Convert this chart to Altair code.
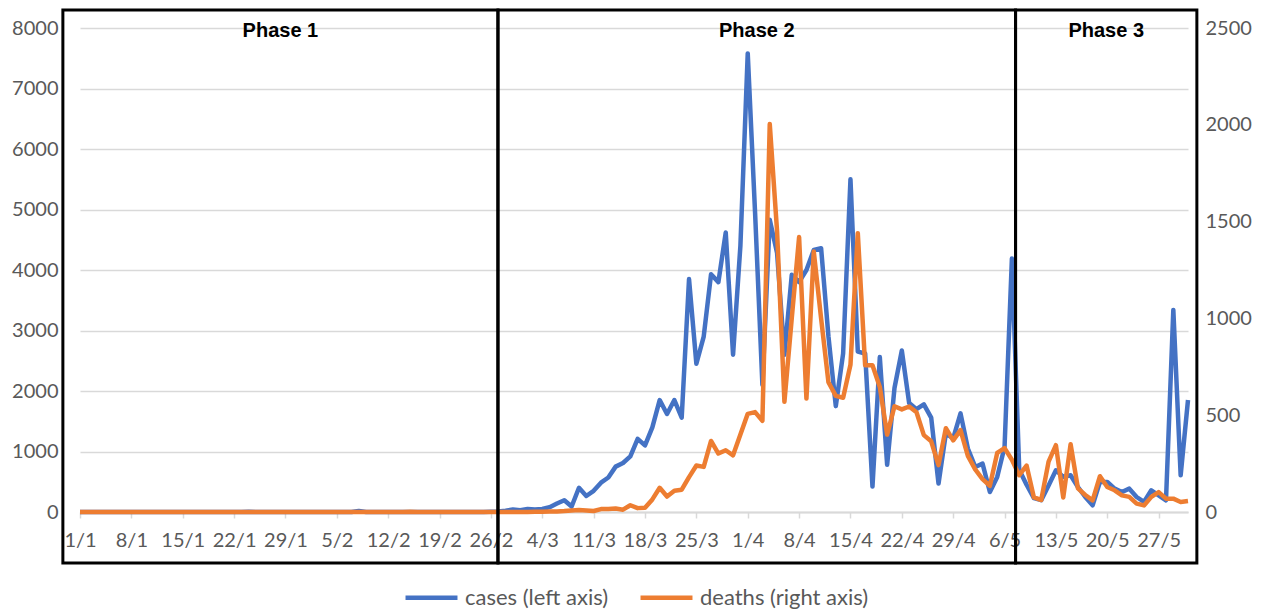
import altair as alt
import pandas as pd

# ---- data ----
start_date = "2020-01-01"
cases_jan = [0]*23 + [3, 0, 0, 0, 0, 1, 0, 0]
cases_feb = [0, 0, 0, 0, 0, 0, 0, 15, 0, 0,
             0, 0, 0, 0, 0, 0, 0, 0, 0, 0,
             0, 0, 0, 0, 0, 5, 10, 20, 40]
cases_mar = [30, 50, 40, 50, 80, 140, 195, 90, 400, 265,
             350, 485, 570, 750, 810, 920, 1210, 1100, 1400, 1850,
             1620, 1850, 1560, 3850, 2450, 2900, 3930, 3800, 4620, 2600, 4400]
cases_apr = [7580, 4950, 2100, 4830, 4280, 2600, 3920, 3800, 4000, 4330,
             4360, 2900, 1750, 2620, 5500, 2650, 2620, 420, 2560, 780,
             2050, 2670, 1800, 1700, 1780, 1560, 470, 1300, 1215, 1630]
cases_may = [1050, 745, 800, 330, 580, 1075, 4190, 700, 450, 230,
             195, 440, 690, 580, 607, 414, 248, 110, 497, 497,
             386, 331, 386, 248, 166, 359, 276, 193, 3340, 607, 1850]

deaths_jan = [0]*31
deaths_feb = [0]*14 + [1] + [0]*14
deaths_mar = [0, 0, 1, 1, 2, 3, 5, 8, 10, 8,
              5, 15, 15, 18, 12, 35, 20, 22, 65, 125,
              80, 110, 115, 180, 240, 233, 367, 302, 319, 293, 400]
deaths_apr = [507, 516, 471, 2004, 1450, 569, 1000, 1420, 586, 1345,
              1000, 670, 600, 590, 760, 1440, 758, 758, 646, 400,
              546, 530, 545, 515, 397, 365, 242, 433, 370, 423]
deaths_may = [290, 220, 170, 135, 305, 330, 270, 190, 240, 75,
              62, 260, 345, 75, 350, 122, 88, 60, 185, 129,
              112, 86, 78, 43, 34, 78, 103, 69, 69, 52, 57]

series_names = ["cases (left axis)", "deaths (right axis)"]
series_colors = ["#4472C4", "#ED7D31"]

phase_labels = ["Phase 1", "Phase 2", "Phase 3"]
phase_start = ["2019-12-29T16:00:00", "2020-02-26T23:00:00", "2020-05-07T12:00:00"]
phase_end = ["2020-02-26T23:00:00", "2020-05-07T12:00:00", "2020-06-01T05:00:00"]

# ---- tables ----
cases = cases_jan + cases_feb + cases_mar + cases_apr + cases_may
deaths = deaths_jan + deaths_feb + deaths_mar + deaths_apr + deaths_may
dates = pd.date_range(start_date, periods=len(cases), freq="D")
df = pd.DataFrame({"date": dates, "cases": cases, "deaths": deaths})
df["s_cases"] = series_names[0]
df["s_deaths"] = series_names[1]

ps = pd.to_datetime(pd.Series(phase_start))
pe = pd.to_datetime(pd.Series(phase_end))
phases = pd.DataFrame({"label": phase_labels, "start": ps, "end": pe,
                       "mid": ps + (pe - ps) / 2})

tick_dates = pd.date_range(start_date, "2020-05-31", freq="7D")
tick_vals = [alt.DateTime(year=d.year, month=d.month, date=d.day) for d in tick_dates]

FONT = "Lato"
GRAY = "#595959"
FS = 20

xscale = alt.Scale(domain=[alt.DateTime(year=2020, month=1, date=1),
                           alt.DateTime(year=2020, month=5, date=31)])
xaxis = alt.Axis(values=tick_vals, format="%-d/%-m", title=None, grid=False,
                 labelFontSize=FS, labelColor=GRAY, labelFont=FONT,
                 domainColor="#d9d9d9", domainWidth=2, tickColor="#d9d9d9",
                 tickWidth=1.5, tickSize=6, labelPadding=12,
                 labelOverlap=False, labelFlush=False)

color = alt.Color("series:N", scale=alt.Scale(domain=series_names, range=series_colors),
                  legend=alt.Legend(orient="none", legendX=323, legendY=541,
                                    direction="horizontal", title=None,
                                    symbolType="stroke", symbolStrokeWidth=4.5,
                                    symbolSize=2700, labelFontSize=22,
                                    labelColor=GRAY, labelFont=FONT, labelLimit=400,
                                    columnPadding=22, labelOffset=5, padding=0))

cases_line = alt.Chart(df).transform_calculate(series="datum.s_cases").mark_line(
    strokeWidth=4.5, strokeJoin="round").encode(
    x=alt.X("date:T", scale=xscale, axis=xaxis),
    y=alt.Y("cases:Q", scale=alt.Scale(domain=[0, 8000]),
            axis=alt.Axis(values=list(range(0, 8001, 1000)), title=None, grid=True,
                          gridColor="#d9d9d9", gridWidth=1.5, domain=False, ticks=False,
                          labelFontSize=FS, labelColor=GRAY, labelFont=FONT,
                          labelPadding=22, format="d")),
    color=color,
)

deaths_line = alt.Chart(df).transform_calculate(series="datum.s_deaths").mark_line(
    strokeWidth=4.5, strokeJoin="round").encode(
    x=alt.X("date:T", scale=xscale, axis=xaxis),
    y=alt.Y("deaths:Q", scale=alt.Scale(domain=[0, 2500]),
            axis=alt.Axis(orient="right", values=list(range(0, 2501, 500)), title=None,
                          grid=False, domain=False, ticks=False,
                          labelFontSize=FS, labelColor=GRAY, labelFont=FONT,
                          labelPadding=17, format="d")),
    color=color,
)

boxes = alt.Chart(phases).mark_rect(fill=None, stroke="black", strokeWidth=3).encode(
    x=alt.X("start:T", scale=xscale),
    x2="end:T",
    y=alt.value(-18),
    y2=alt.value(535),
)

labels = alt.Chart(phases).mark_text(font="Liberation Sans", fontWeight="bold",
                                     fontSize=20, color="black", baseline="middle").encode(
    x=alt.X("mid:T", scale=xscale),
    text="label:N",
    y=alt.value(3),
)

chart = alt.layer(cases_line, deaths_line, boxes, labels).resolve_scale(
    y="independent"
).properties(
    width=1108, height=484,
    autosize=alt.AutoSizeParams(type="none"),
    padding={"left": 72, "top": 20, "right": 74, "bottom": 98},
).configure_view(stroke=None)

chart.save("out.html", embed_options={"renderer": "svg", "actions": False})
